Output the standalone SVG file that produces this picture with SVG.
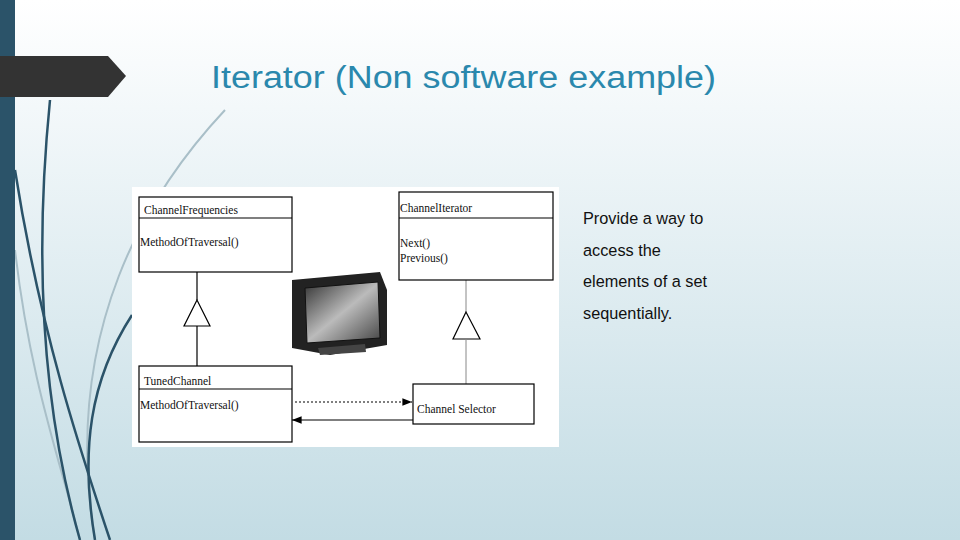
<svg xmlns="http://www.w3.org/2000/svg" width="960" height="540" viewBox="0 0 960 540">
<defs>
<linearGradient id="bg" x1="0" y1="0" x2="0" y2="1"><stop offset="0" stop-color="#ffffff"/><stop offset="0.2" stop-color="#f3f8fa"/><stop offset="1" stop-color="#c3dce4"/></linearGradient>
<linearGradient id="scr" x1="0" y1="0" x2="1" y2="1"><stop offset="0" stop-color="#333"/><stop offset="0.5" stop-color="#bbb"/><stop offset="1" stop-color="#444"/></linearGradient>
<marker id="ah" viewBox="0 0 10 10" refX="10" refY="5" markerWidth="8" markerHeight="8" orient="auto"><path d="M0,1 L10,5 L0,9 Z" fill="#000"/></marker>
</defs>
<style>
.box{fill:#fff;stroke:#000;stroke-width:1.2}
.ln{stroke:#000;stroke-width:1.2;fill:none}
.uml{font-family:"Liberation Serif",serif;font-size:11.5px;fill:#111}
.deco{fill:none;stroke:#2b5369;stroke-width:2.5}
.decol{fill:none;stroke:#a9bfc8;stroke-width:2}
.side{font-family:"Liberation Sans",Arial,sans-serif;font-size:16.3px;fill:#111}
</style>
<rect width="960" height="540" fill="url(#bg)"/>
<g id="decoration">
<path class="decol" d="M225,110 C150,190 60,330 95,540"/>
<path class="decol" d="M15,250 C30,380 60,460 80,540"/>
<path class="deco" d="M50,100 C35,250 40,400 80,540"/>
<path class="deco" d="M15,170 C40,330 80,450 110,540"/>
<path class="deco" d="M132,315 C90,380 80,450 95,540"/>
<rect x="0" y="0" width="15" height="540" fill="#2b5369"/>
<path d="M0,56 L108,56 L126,76 L108,97 L0,97 Z" fill="#333"/>
</g>
<text x="211" y="88" font-family="Liberation Sans,Arial,sans-serif" font-size="31" fill="#2a88ad" textLength="505" lengthAdjust="spacingAndGlyphs">Iterator (Non software example)</text>
<g id="panel"><rect x="132" y="187" width="427" height="260" fill="#fff"/></g>
<g id="tv">
<path d="M292,280 L380,272 L387,290 L387,345 L330,355 L292,348 Z" fill="#222"/>
<path d="M305,288 L378,282 L380,338 L307,343 Z" fill="url(#scr)" stroke="#111"/>
<path d="M318,348 L365,344 L366,352 L320,355 Z" fill="#444"/>
</g>
<g id="connectors">
<line class="ln" x1="197" y1="272" x2="197" y2="300"/>
<polygon class="ln" points="197,300 184,326 210,326" fill="#fff"/>
<line class="ln" x1="197" y1="326" x2="197" y2="366"/>
<line x1="466" y1="280" x2="466" y2="312" stroke="#888" stroke-width="1"/>
<polygon points="466,312 453,339 480,339" fill="#fff" stroke="#000" stroke-width="1.2"/>
<line x1="466" y1="339" x2="466" y2="384" stroke="#888" stroke-width="1"/>
<line class="ln" x1="295" y1="402" x2="412" y2="402" stroke-dasharray="2,2" marker-end="url(#ah)"/>
<line class="ln" x1="413" y1="420" x2="292" y2="420" marker-end="url(#ah)"/>
</g>
<g id="ChannelFrequencies">
<rect class="box" x="139" y="197" width="153" height="75"/><line class="ln" x1="139" y1="218" x2="292" y2="218"/>
<text class="uml" x="144" y="214">ChannelFrequencies</text><text class="uml" x="140" y="246">MethodOfTraversal()</text>
</g>
<g id="ChannelIterator">
<rect class="box" x="399" y="192" width="154" height="88"/><line class="ln" x1="399" y1="218" x2="553" y2="218"/>
<text class="uml" x="400" y="212">ChannelIterator</text><text class="uml" x="400" y="247">Next()</text><text class="uml" x="400" y="262">Previous()</text>
</g>
<g id="TunedChannel">
<rect class="box" x="139" y="366" width="153" height="76"/><line class="ln" x1="139" y1="389" x2="292" y2="389"/>
<text class="uml" x="144" y="385">TunedChannel</text><text class="uml" x="140" y="409">MethodOfTraversal()</text>
</g>
<g id="ChannelSelector">
<rect class="box" x="413" y="384" width="121" height="40"/>
<text class="uml" x="417" y="413">Channel Selector</text>
</g>
<g id="description">
<text class="side" x="583" y="224">Provide a way to</text>
<text class="side" x="583" y="256">access the</text>
<text class="side" x="583" y="287">elements of a set</text>
<text class="side" x="583" y="319">sequentially.</text>
</g>
</svg>
